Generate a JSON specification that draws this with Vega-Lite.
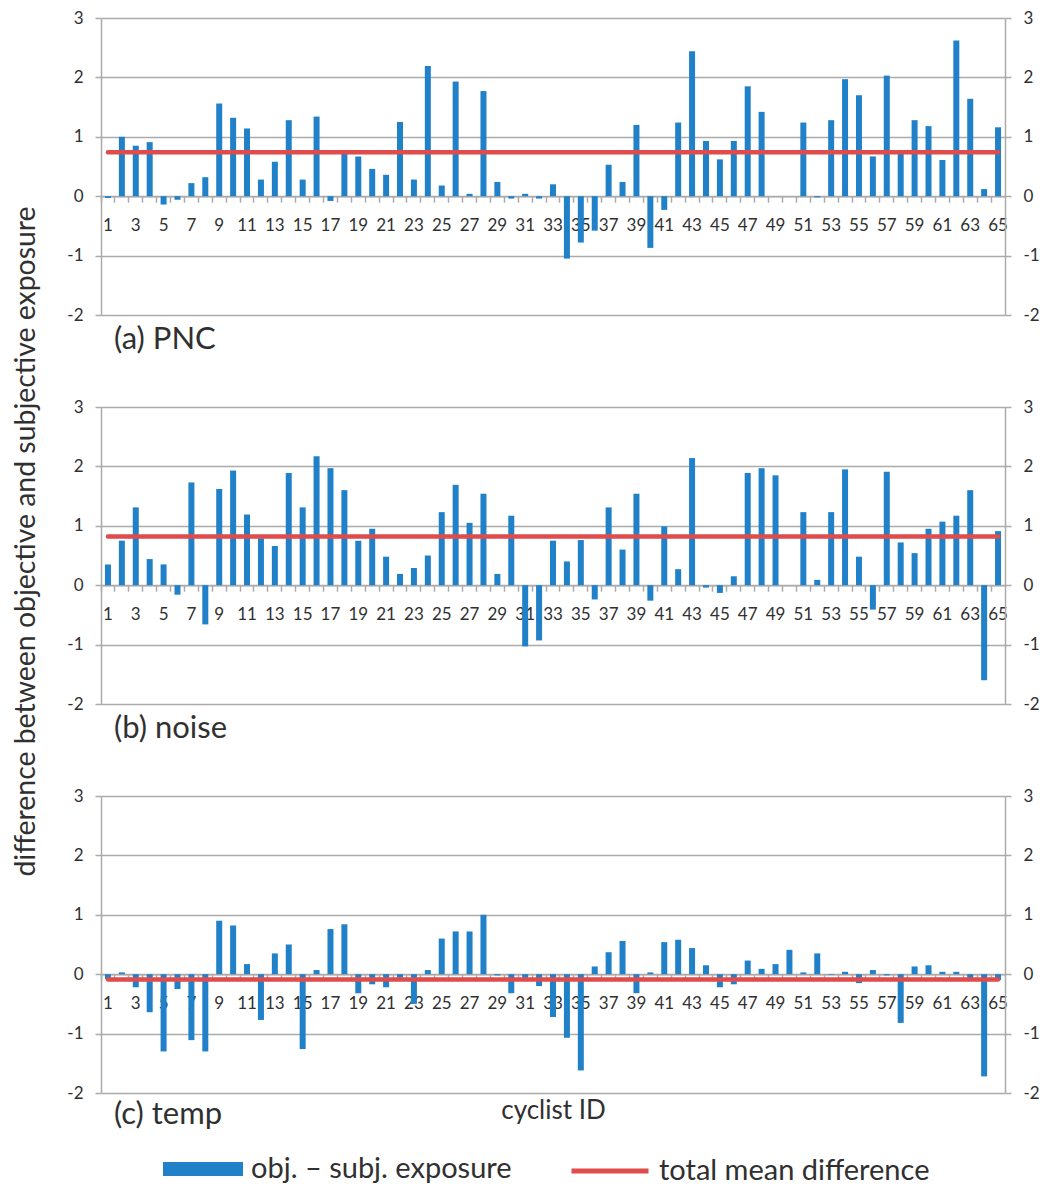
{
  "$schema": "https://vega.github.io/schema/vega-lite/v6.json",
  "padding": {"left": 11, "top": 9, "right": 5, "bottom": 5},
  "background": "white",
  "config": {
    "view": {"stroke": null},
    "font": "Lato",
    "axis": {"labelFont": "Lato", "titleFont": "Lato", "labelColor": "#303030", "titleColor": "#303030", "titleFontWeight": "normal"},
    "title": {"font": "Lato", "fontWeight": "normal", "color": "#303030"},
    "legend": {"labelFont": "Lato", "labelColor": "#303030"}
  },
  "datasets": {
    "cyc": [
      {"id": 1, "pnc": -0.03, "noise": 0.35, "temp": -0.08},
      {"id": 2, "pnc": 1.0, "noise": 0.75, "temp": 0.03},
      {"id": 3, "pnc": 0.85, "noise": 1.31, "temp": -0.22},
      {"id": 4, "pnc": 0.91, "noise": 0.44, "temp": -0.64},
      {"id": 5, "pnc": -0.14, "noise": 0.35, "temp": -1.3},
      {"id": 6, "pnc": -0.06, "noise": -0.16, "temp": -0.25},
      {"id": 7, "pnc": 0.22, "noise": 1.73, "temp": -1.11},
      {"id": 8, "pnc": 0.32, "noise": -0.66, "temp": -1.3},
      {"id": 9, "pnc": 1.56, "noise": 1.62, "temp": 0.9},
      {"id": 10, "pnc": 1.32, "noise": 1.93, "temp": 0.82},
      {"id": 11, "pnc": 1.14, "noise": 1.19, "temp": 0.17},
      {"id": 12, "pnc": 0.28, "noise": 0.79, "temp": -0.77},
      {"id": 13, "pnc": 0.58, "noise": 0.66, "temp": 0.35},
      {"id": 14, "pnc": 1.28, "noise": 1.89, "temp": 0.5},
      {"id": 15, "pnc": 0.28, "noise": 1.31, "temp": -1.26},
      {"id": 16, "pnc": 1.34, "noise": 2.17, "temp": 0.07},
      {"id": 17, "pnc": -0.08, "noise": 1.97, "temp": 0.76},
      {"id": 18, "pnc": 0.73, "noise": 1.6, "temp": 0.84},
      {"id": 19, "pnc": 0.67, "noise": 0.75, "temp": -0.32},
      {"id": 20, "pnc": 0.46, "noise": 0.95, "temp": -0.17},
      {"id": 21, "pnc": 0.36, "noise": 0.48, "temp": -0.22},
      {"id": 22, "pnc": 1.25, "noise": 0.19, "temp": -0.06},
      {"id": 23, "pnc": 0.28, "noise": 0.29, "temp": -0.5},
      {"id": 24, "pnc": 2.19, "noise": 0.5, "temp": 0.07},
      {"id": 25, "pnc": 0.18, "noise": 1.23, "temp": 0.6},
      {"id": 26, "pnc": 1.93, "noise": 1.69, "temp": 0.72},
      {"id": 27, "pnc": 0.04, "noise": 1.05, "temp": 0.72},
      {"id": 28, "pnc": 1.77, "noise": 1.54, "temp": 1.0},
      {"id": 29, "pnc": 0.24, "noise": 0.19, "temp": -0.02},
      {"id": 30, "pnc": -0.04, "noise": 1.17, "temp": -0.32},
      {"id": 31, "pnc": 0.04, "noise": -1.03, "temp": -0.06},
      {"id": 32, "pnc": -0.04, "noise": -0.93, "temp": -0.2},
      {"id": 33, "pnc": 0.2, "noise": 0.75, "temp": -0.72},
      {"id": 34, "pnc": -1.05, "noise": 0.4, "temp": -1.07},
      {"id": 35, "pnc": -0.78, "noise": 0.76, "temp": -1.62},
      {"id": 36, "pnc": -0.58, "noise": -0.24, "temp": 0.13},
      {"id": 37, "pnc": 0.53, "noise": 1.31, "temp": 0.37},
      {"id": 38, "pnc": 0.24, "noise": 0.6, "temp": 0.56},
      {"id": 39, "pnc": 1.2, "noise": 1.54, "temp": -0.32},
      {"id": 40, "pnc": -0.87, "noise": -0.26, "temp": 0.03},
      {"id": 41, "pnc": -0.23, "noise": 0.99, "temp": 0.54},
      {"id": 42, "pnc": 1.24, "noise": 0.27, "temp": 0.58},
      {"id": 43, "pnc": 2.44, "noise": 2.14, "temp": 0.44},
      {"id": 44, "pnc": 0.93, "noise": -0.04, "temp": 0.15},
      {"id": 45, "pnc": 0.62, "noise": -0.13, "temp": -0.22},
      {"id": 46, "pnc": 0.93, "noise": 0.15, "temp": -0.17},
      {"id": 47, "pnc": 1.85, "noise": 1.89, "temp": 0.23},
      {"id": 48, "pnc": 1.42, "noise": 1.97, "temp": 0.09},
      {"id": 49, "pnc": 0, "noise": 1.85, "temp": 0.17},
      {"id": 50, "pnc": 0, "noise": 0, "temp": 0.41},
      {"id": 51, "pnc": 1.24, "noise": 1.23, "temp": 0.03},
      {"id": 52, "pnc": -0.02, "noise": 0.09, "temp": 0.35},
      {"id": 53, "pnc": 1.28, "noise": 1.23, "temp": -0.01},
      {"id": 54, "pnc": 1.97, "noise": 1.95, "temp": 0.04},
      {"id": 55, "pnc": 1.7, "noise": 0.48, "temp": -0.15},
      {"id": 56, "pnc": 0.67, "noise": -0.41, "temp": 0.07},
      {"id": 57, "pnc": 2.03, "noise": 1.91, "temp": -0.02},
      {"id": 58, "pnc": 0.74, "noise": 0.72, "temp": -0.82},
      {"id": 59, "pnc": 1.28, "noise": 0.54, "temp": 0.13},
      {"id": 60, "pnc": 1.18, "noise": 0.95, "temp": 0.15},
      {"id": 61, "pnc": 0.61, "noise": 1.07, "temp": 0.04},
      {"id": 62, "pnc": 2.62, "noise": 1.17, "temp": 0.04},
      {"id": 63, "pnc": 1.64, "noise": 1.6, "temp": -0.07},
      {"id": 64, "pnc": 0.12, "noise": -1.6, "temp": -1.72},
      {"id": 65, "pnc": 1.16, "noise": 0.91, "temp": -0.1}
    ],
    "meanline": [
      {"id": 1, "pnc": 0.74, "noise": 0.82, "temp": -0.09},
      {"id": 65, "pnc": 0.74, "noise": 0.82, "temp": -0.09}
    ]
  },
  "spacing": 92,
  "bounds": "flush",
  "resolve": {"scale": {"fill": "independent", "stroke": "independent"}},
  "vconcat": [
    {
      "width": 904, "height": 297,
      "title": {"text": "(a) PNC", "orient": "bottom", "anchor": "start", "frame": "group", "dx": 13, "fontSize": 31, "offset": 2},
      "layer": [
        {
          "data": {"name": "cyc"},
          "mark": {"type": "bar", "size": 6, "color": "#2080C8"},
          "encoding": {
            "x": {"field": "id", "type": "ordinal", "scale": {"paddingInner": 0, "paddingOuter": 0},
              "axis": {"orient": "bottom", "offset": -118.8, "title": null, "bandPosition": 0, "labelDx": 6.95, "labelExpr": "datum.value % 2 == 1 ? datum.label : ''", "labelAngle": 0, "labelOverlap": false, "labelFontSize": 17, "labelPadding": 15, "tickSize": 6, "tickColor": "#ababab", "tickWidth": 1.5, "domainColor": "#ababab", "domainWidth": 1.5, "grid": false}},
            "y": {"field": "pnc", "type": "quantitative", "scale": {"domain": [-2, 3], "nice": false, "zero": false},
              "axis": {"orient": "left", "values": [-2, -1, 0, 1, 2, 3], "labelExpr": "'' + datum.value", "title": null, "grid": true, "gridColor": "#ababab", "gridWidth": 1.5, "domainColor": "#ababab", "domainWidth": 1.5, "tickColor": "#ababab", "tickWidth": 1.5, "tickSize": 6, "labelFontSize": 17, "labelPadding": 12}}
          }
        },
        {
          "data": {"name": "meanline"},
          "mark": {"type": "line", "color": "#E04B4B", "strokeWidth": 4.5, "strokeCap": "round"},
          "encoding": {
            "x": {"field": "id", "type": "ordinal"},
            "y": {"field": "pnc", "type": "quantitative",
              "axis": {"orient": "right", "values": [-2, -1, 0, 1, 2, 3], "labelExpr": "'' + datum.value", "title": null, "grid": false, "domainColor": "#ababab", "domainWidth": 1.5, "tickColor": "#ababab", "tickWidth": 1.5, "tickSize": 6, "labelFontSize": 17, "labelPadding": 12}}
          }
        }
      ],
      "resolve": {"axis": {"y": "independent"}}
    },
    {
      "width": 904, "height": 297,
      "title": {"text": "(b) noise", "orient": "bottom", "anchor": "start", "frame": "group", "dx": 13, "fontSize": 31, "offset": 2},
      "layer": [
        {
          "data": {"name": "cyc"},
          "mark": {"type": "bar", "size": 6, "color": "#2080C8"},
          "encoding": {
            "x": {"field": "id", "type": "ordinal", "scale": {"paddingInner": 0, "paddingOuter": 0},
              "axis": {"orient": "bottom", "offset": -118.8, "title": null, "bandPosition": 0, "labelDx": 6.95, "labelExpr": "datum.value % 2 == 1 ? datum.label : ''", "labelAngle": 0, "labelOverlap": false, "labelFontSize": 17, "labelPadding": 15, "tickSize": 6, "tickColor": "#ababab", "tickWidth": 1.5, "domainColor": "#ababab", "domainWidth": 1.5, "grid": false}},
            "y": {"field": "noise", "type": "quantitative", "scale": {"domain": [-2, 3], "nice": false, "zero": false},
              "axis": {"orient": "left", "values": [-2, -1, 0, 1, 2, 3], "labelExpr": "'' + datum.value", "title": null, "grid": true, "gridColor": "#ababab", "gridWidth": 1.5, "domainColor": "#ababab", "domainWidth": 1.5, "tickColor": "#ababab", "tickWidth": 1.5, "tickSize": 6, "labelFontSize": 17, "labelPadding": 12}}
          }
        },
        {
          "data": {"name": "meanline"},
          "mark": {"type": "line", "color": "#E04B4B", "strokeWidth": 4.5, "strokeCap": "round"},
          "encoding": {
            "x": {"field": "id", "type": "ordinal"},
            "y": {"field": "noise", "type": "quantitative",
              "axis": {"orient": "right", "values": [-2, -1, 0, 1, 2, 3], "labelExpr": "'' + datum.value", "title": null, "grid": false, "domainColor": "#ababab", "domainWidth": 1.5, "tickColor": "#ababab", "tickWidth": 1.5, "tickSize": 6, "labelFontSize": 17, "labelPadding": 12}}
          }
        }
      ],
      "resolve": {"axis": {"y": "independent"}}
    },
    {
      "width": 904, "height": 297,
      "title": {"text": "(c) temp", "orient": "bottom", "anchor": "start", "frame": "group", "dx": 13, "fontSize": 31, "offset": -86},
      "layer": [
        {
          "data": {"name": "cyc"},
          "mark": {"type": "bar", "size": 6},
          "encoding": {
            "x": {"field": "id", "type": "ordinal", "scale": {"paddingInner": 0, "paddingOuter": 0},
              "axis": {"orient": "bottom", "offset": -118.8, "title": "cyclist ID", "titleFontSize": 26, "titleY": 136, "titleBaseline": "middle", "bandPosition": 0, "labelDx": 6.95, "labelExpr": "datum.value % 2 == 1 ? datum.label : ''", "labelAngle": 0, "labelOverlap": false, "labelFontSize": 17, "labelPadding": 15, "tickSize": 6, "tickColor": "#ababab", "tickWidth": 1.5, "domainColor": "#ababab", "domainWidth": 1.5, "grid": false}},
            "y": {"field": "temp", "type": "quantitative", "scale": {"domain": [-2, 3], "nice": false, "zero": false},
              "axis": {"orient": "left", "values": [-2, -1, 0, 1, 2, 3], "labelExpr": "'' + datum.value", "title": "difference between objective and subjective exposure", "titleFontSize": 28.4, "titlePadding": 26, "titleY": -255, "grid": true, "gridColor": "#ababab", "gridWidth": 1.5, "domainColor": "#ababab", "domainWidth": 1.5, "tickColor": "#ababab", "tickWidth": 1.5, "tickSize": 6, "labelFontSize": 17, "labelPadding": 12}},
            "fill": {"datum": "obj. – subj. exposure", "type": "nominal", "scale": {"range": ["#2080C8"]},
              "legend": {"title": null, "orient": "none", "legendX": 62, "legendY": 333, "symbolType": "M-1,-0.175H1V0.175H-1Z", "symbolSize": 6400, "symbolStrokeWidth": 0, "labelFontSize": 29, "labelOffset": 8, "labelLimit": 500}}
          }
        },
        {
          "data": {"name": "meanline"},
          "mark": {"type": "line", "strokeWidth": 4.5, "strokeCap": "round"},
          "encoding": {
            "x": {"field": "id", "type": "ordinal"},
            "y": {"field": "temp", "type": "quantitative",
              "axis": {"orient": "right", "values": [-2, -1, 0, 1, 2, 3], "labelExpr": "'' + datum.value", "title": null, "grid": false, "domainColor": "#ababab", "domainWidth": 1.5, "tickColor": "#ababab", "tickWidth": 1.5, "tickSize": 6, "labelFontSize": 17, "labelPadding": 12}},
            "stroke": {"datum": "total mean difference", "type": "nominal", "scale": {"range": ["#E04B4B"]},
              "legend": {"title": null, "orient": "none", "legendX": 468, "legendY": 334, "symbolType": "stroke", "symbolSize": 5929, "symbolStrokeWidth": 5, "labelFontSize": 29, "labelOffset": 8, "labelLimit": 500}}
          }
        }
      ],
      "resolve": {"axis": {"y": "independent"}}
    }
  ]
}
